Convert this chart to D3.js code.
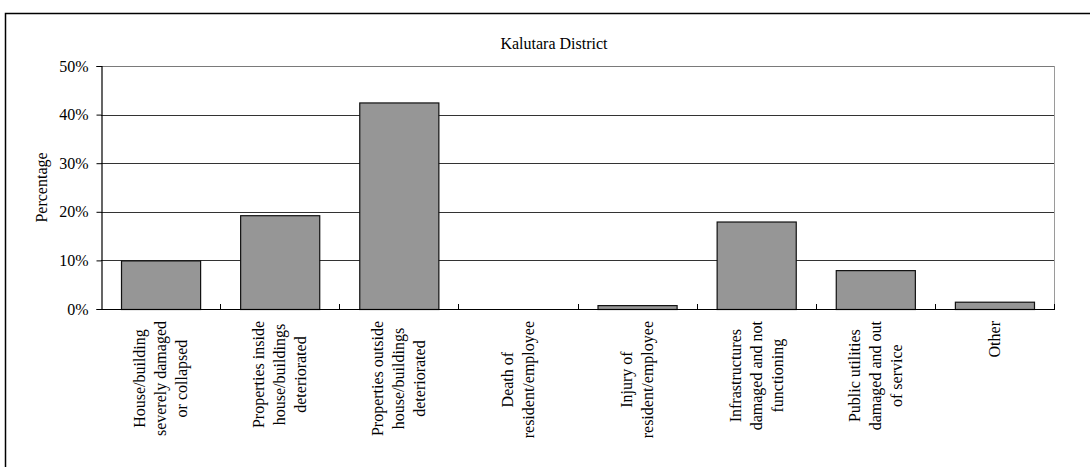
<!DOCTYPE html>
<html>
<head>
<meta charset="utf-8">
<script src="https://cdn.jsdelivr.net/npm/d3@7"></script>
<style>
  html, body { margin: 0; padding: 0; background: #fff; }
  svg { display: block; font-family: "Liberation Serif", "Times New Roman", serif; }
</style>
</head>
<body>
<svg id="chart" width="1090" height="467"></svg>
<script>
const title = "Kalutara District";
const yAxisLabel = "Percentage";
const categories = [
  ["House/building", "severely damaged", "or collapsed"],
  ["Properties inside", "house/buildings", "deteriorated"],
  ["Properties outside", "house/buildings", "deteriorated"],
  ["Death of", "resident/employee"],
  ["Injury of", "resident/employee"],
  ["Infrastructures", "damaged and not", "functioning"],
  ["Public utilities", "damaged and out", "of service"],
  ["Other"]
];
const values = [0.10, 0.193, 0.425, 0.0, 0.008, 0.18, 0.08, 0.015];
const yTicks = [0, 0.1, 0.2, 0.3, 0.4, 0.5];

const svg = d3.select("#chart");
const L = 101, R = 1054, T = 66, B = 309;
const fs = 16;

// outer frame
svg.append("rect").attr("x", 5.5).attr("y", 13.5).attr("width", 1200).attr("height", 600)
  .attr("fill", "none").attr("stroke", "#000").attr("stroke-width", 1.5);

const keys = categories.map((c, i) => i);
const x = d3.scaleBand().domain(keys).range([L, R]).paddingInner(0.336).paddingOuter(0.168);
const y = d3.scaleLinear().domain([0, 0.5]).range([B, T]);

// gridlines
svg.append("g").selectAll("line").data(yTicks.filter(t => t > 0 && t < 0.5)).join("line")
  .attr("x1", L).attr("x2", R)
  .attr("y1", d => Math.round(y(d)) + 0.5).attr("y2", d => Math.round(y(d)) + 0.5)
  .attr("stroke", "#333").attr("stroke-width", 1);

// top and right plot border
svg.append("line").attr("x1", L).attr("x2", R).attr("y1", T + 0.5).attr("y2", T + 0.5)
  .attr("stroke", "#7a7a7a").attr("stroke-width", 1);
svg.append("line").attr("x1", R + 0.5).attr("x2", R + 0.5).attr("y1", T).attr("y2", B)
  .attr("stroke", "#9a9a9a").attr("stroke-width", 1);

// bars
svg.append("g").selectAll("rect").data(values).join("rect")
  .attr("x", (d, i) => x(i) + 0.5)
  .attr("width", x.bandwidth())
  .attr("y", d => y(d) + 0.5)
  .attr("height", d => Math.max(0, y(0) - y(d)))
  .attr("fill", "#969696")
  .attr("stroke", d => d > 0 ? "#111" : "none")
  .attr("stroke-width", 1.2);

// y axis
const yAxis = d3.axisLeft(y).tickValues(yTicks).tickFormat(d3.format(".0%")).tickSize(5).tickPadding(8);
const gy = svg.append("g").attr("transform", `translate(${L + 0.5},0)`).call(yAxis);
gy.select(".domain").attr("stroke", "#000").attr("stroke-width", 1.2);
gy.selectAll(".tick line").attr("stroke", "#000");
gy.selectAll(".tick text").attr("font-size", fs).attr("font-family", '"Liberation Serif", serif').attr("fill", "#000");

// x axis baseline with inward boundary ticks
const step = x.step();
const boundaries = d3.range(1, categories.length + 1).map(i => L + x.paddingOuter() * 0 + (x(i - 1) - x.paddingOuter()*step + step));
svg.append("line").attr("x1", L).attr("x2", R + 1).attr("y1", B + 0.5).attr("y2", B + 0.5)
  .attr("stroke", "#000").attr("stroke-width", 1.2);
svg.append("g").selectAll("line").data(keys).join("line")
  .attr("x1", i => Math.round(x(i) - x.paddingOuter() * step + step) + 0.5)
  .attr("x2", i => Math.round(x(i) - x.paddingOuter() * step + step) + 0.5)
  .attr("y1", B).attr("y2", B - 5)
  .attr("stroke", "#000").attr("stroke-width", 1);

// category labels (rotated, top-aligned block, centered lines)
const lineH = 21, labelTop = 321;
const cg = svg.append("g").selectAll("g").data(categories).join("g")
  .attr("transform", (d, i) => `translate(${x(i) + x.bandwidth() / 2},${labelTop}) rotate(-90)`);
cg.each(function(lines) {
  const g = d3.select(this);
  const texts = g.selectAll("text").data(lines).join("text")
    .attr("font-size", fs).attr("fill", "#000")
    .attr("text-anchor", "middle").attr("dominant-baseline", "central")
    .attr("y", (d, j) => (j - (lines.length - 1) / 2) * lineH)
    .text(d => d);
  let maxLen = 0;
  texts.each(function() { maxLen = Math.max(maxLen, this.getComputedTextLength()); });
  texts.attr("x", -maxLen / 2);
});

// y axis label
svg.append("text").attr("transform", `translate(41,${(T + B) / 2}) rotate(-90)`)
  .attr("text-anchor", "middle").attr("dominant-baseline", "central")
  .attr("font-size", fs).attr("fill", "#000").text(yAxisLabel);

// title
svg.append("text").attr("x", 554).attr("y", 49).attr("text-anchor", "middle")
  .attr("font-size", fs).attr("fill", "#000").text(title);
</script>
</body>
</html>
